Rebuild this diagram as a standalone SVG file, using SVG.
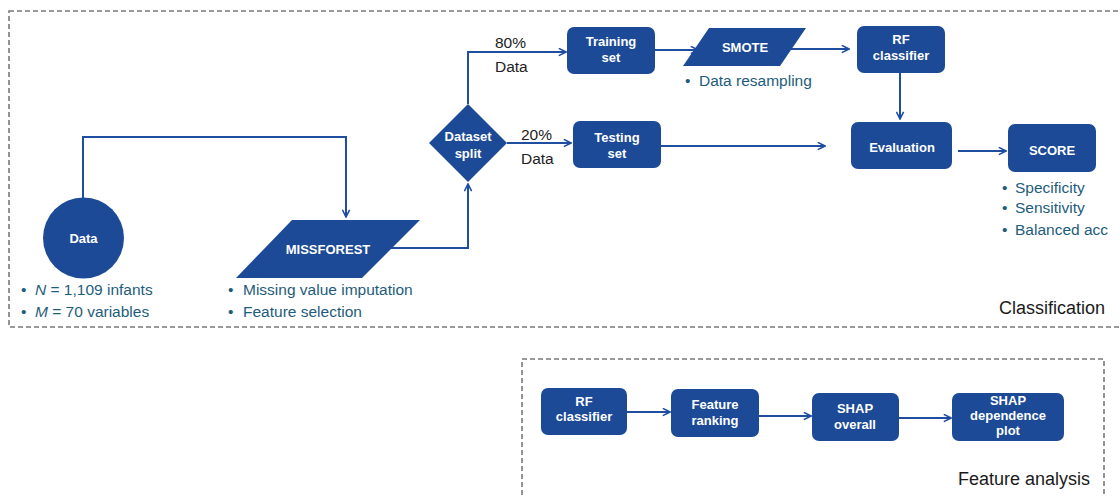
<svg xmlns="http://www.w3.org/2000/svg" width="1120" height="496" viewBox="0 0 1120 496">
<defs>
<style>
.frame{fill:none;stroke:#7a7a7a;stroke-width:1.6;stroke-dasharray:5 3}
.node{fill:#1c4a97}
.nt{fill:#fff;font-family:"Liberation Sans",Arial,sans-serif;font-weight:bold;font-size:13px;text-anchor:middle}
.conn{fill:none;stroke:#1f4ea0;stroke-width:2}
.lab{fill:#222;font-family:"Liberation Sans",Arial,sans-serif;font-size:15.5px}
.bul{fill:#1e5c7c;font-family:"Liberation Sans",Arial,sans-serif;font-size:15.5px}
.title{fill:#1a1a1a;font-family:"Liberation Sans",Arial,sans-serif;font-size:18px;text-anchor:end}
</style>
<marker id="arr" viewBox="0 0 10 10" refX="9" refY="5" markerWidth="9" markerHeight="9" markerUnits="userSpaceOnUse" orient="auto">
<path d="M1,1 L9,5 L1,9" fill="none" stroke="#1f4ea0" stroke-width="1.8"/>
</marker>
</defs>
<rect width="1120" height="496" fill="#fff"/>

<g id="frame-classification">
<rect class="frame" x="9" y="11" width="1125" height="316"/>
<text class="title" x="1105" y="314">Classification</text>
</g>
<g id="frame-feature">
<rect class="frame" x="522" y="359" width="582" height="150"/>
<text class="title" x="1090" y="485">Feature analysis</text>
</g>

<g id="connectors">
<path class="conn" d="M83,198 V137 H346 V217" marker-end="url(#arr)"/>
<path class="conn" d="M391,248 H468 V184" marker-end="url(#arr)"/>
<path class="conn" d="M468,104 V52 H566" marker-end="url(#arr)"/>
<path class="conn" d="M507,143 H571" marker-end="url(#arr)"/>
<path class="conn" d="M655,50 H698" marker-end="url(#arr)"/>
<path class="conn" d="M789,49 H849" marker-end="url(#arr)"/>
<path class="conn" d="M900,73 V119" marker-end="url(#arr)"/>
<path class="conn" d="M661,146 H825" marker-end="url(#arr)"/>
<path class="conn" d="M958,151 H1006" marker-end="url(#arr)"/>
<path class="conn" d="M627,412 H670" marker-end="url(#arr)"/>
<path class="conn" d="M759,416 H811" marker-end="url(#arr)"/>
<path class="conn" d="M899,418 H951" marker-end="url(#arr)"/>
<text class="lab" x="495" y="48">80%</text>
<text class="lab" x="495" y="72">Data</text>
<text class="lab" x="521" y="140">20%</text>
<text class="lab" x="521" y="164">Data</text>
</g>

<g id="node-data">
<ellipse class="node" cx="83.5" cy="238" rx="40.5" ry="40.5"/>
<text class="nt" x="83.5" y="243">Data</text>
<text class="bul" x="21" y="295">•</text>
<text class="bul" x="35" y="295"><tspan font-style="italic">N</tspan> = 1,109 infants</text>
<text class="bul" x="21" y="317">•</text>
<text class="bul" x="35" y="317"><tspan font-style="italic">M</tspan> = 70 variables</text>
</g>

<g id="node-missforest">
<polygon class="node" points="236,278 292,220 420,220 362,278"/>
<text class="nt" x="328" y="254">MISSFOREST</text>
<text class="bul" x="228" y="295">•</text>
<text class="bul" x="243" y="295">Missing value imputation</text>
<text class="bul" x="228" y="317">•</text>
<text class="bul" x="243" y="317">Feature selection</text>
</g>

<g id="node-split">
<polygon class="node" points="468,104 507,143 468,182 429,143"/>
<text class="nt" x="468" y="141">Dataset</text>
<text class="nt" x="468" y="158">split</text>
</g>

<g id="node-training">
<rect class="node" x="567" y="27" width="88" height="47" rx="7"/>
<text class="nt" x="611" y="46">Training</text>
<text class="nt" x="611" y="62">set</text>
</g>

<g id="node-smote">
<polygon class="node" points="683,66 709,28 806,28 780,66"/>
<text class="nt" x="745" y="52">SMOTE</text>
<text class="bul" x="685" y="86">•</text>
<text class="bul" x="699" y="86">Data resampling</text>
</g>

<g id="node-rf">
<rect class="node" x="857" y="26" width="88" height="47" rx="7"/>
<text class="nt" x="901" y="44">RF</text>
<text class="nt" x="901" y="60">classifier</text>
</g>

<g id="node-testing">
<rect class="node" x="573" y="121" width="88" height="47" rx="7"/>
<text class="nt" x="617" y="142">Testing</text>
<text class="nt" x="617" y="158">set</text>
</g>

<g id="node-evaluation">
<rect class="node" x="851" y="122" width="101" height="47" rx="7"/>
<text class="nt" x="902" y="152">Evaluation</text>
</g>

<g id="node-score">
<rect class="node" x="1008" y="124" width="88" height="48" rx="7"/>
<text class="nt" x="1052" y="155">SCORE</text>
<text class="bul" x="1002" y="193">•</text>
<text class="bul" x="1015" y="193">Specificity</text>
<text class="bul" x="1002" y="213">•</text>
<text class="bul" x="1015" y="213">Sensitivity</text>
<text class="bul" x="1002" y="235">•</text>
<text class="bul" x="1015" y="235">Balanced acc</text>
</g>

<g id="node-rf2">
<rect class="node" x="541" y="388" width="86" height="47" rx="7"/>
<text class="nt" x="584" y="406">RF</text>
<text class="nt" x="584" y="421">classifier</text>
</g>

<g id="node-ranking">
<rect class="node" x="671" y="389" width="88" height="48" rx="7"/>
<text class="nt" x="715" y="409">Feature</text>
<text class="nt" x="715" y="425">ranking</text>
</g>

<g id="node-shap">
<rect class="node" x="812" y="393" width="87" height="48" rx="7"/>
<text class="nt" x="855" y="413">SHAP</text>
<text class="nt" x="855" y="429">overall</text>
</g>

<g id="node-dependence">
<rect class="node" x="952" y="393" width="112" height="48" rx="7"/>
<text class="nt" x="1008" y="405">SHAP</text>
<text class="nt" x="1008" y="420">dependence</text>
<text class="nt" x="1008" y="435">plot</text>
</g>
</svg>
